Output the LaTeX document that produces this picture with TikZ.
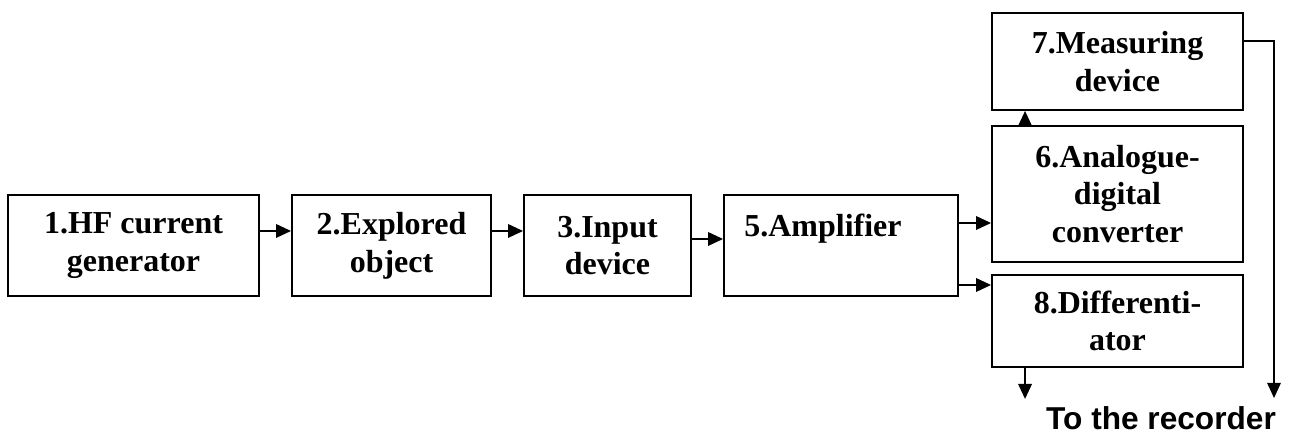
\documentclass[tikz,border=0pt]{standalone}
\usepackage{fontspec}
\setmainfont{Liberation Serif}
\newfontfamily\recfont{Liberation Sans}
\usetikzlibrary{arrows.meta, calc}

\tikzset{
    block/.style={draw, line width=1.1pt, align=center, inner sep=0pt,
        font=\fontsize{18.2}{21.5}\selectfont\bfseries},
    flow/.style={line width=1.1pt, -{Triangle[length=0.3cm, width=0.27cm]}},
}

\begin{document}
\begin{tikzpicture}
\useasboundingbox (0,0) rectangle (25.84,8.7);

%%Paramaters
%% row of the main chain, column of the output blocks
\def\rowPos{ 3.79 }
\def\colPos{ 22.35 }

    %% main chain
    \node[block, minimum width=5.02cm, minimum height=2.02cm] (hfgen) at (2.67, \rowPos) {1.HF current\\generator};
    \node[block, minimum width=3.98cm, minimum height=2.02cm] (object) at (7.83, \rowPos) {2.Explored\\object};
    \node[block, minimum width=3.34cm, minimum height=2.02cm] (input) at (12.15, \rowPos) {3.Input\\device};
    \node[block, minimum width=4.68cm, minimum height=2.02cm] (amp) at (16.82, \rowPos) {};
    \node[anchor=north west, inner sep=0pt, font=\fontsize{18.2}{21.5}\selectfont\bfseries] (amptext) at ($(amp.north west) + (0.42, -0.4)$) {5.Amplifier};

    %% output blocks
    \node[block, minimum width=5.02cm, minimum height=1.94cm] (meas) at (\colPos, 7.47) {7.Measuring\\device};
    \node[block, minimum width=5.02cm, minimum height=2.72cm] (adc) at (\colPos, 4.82) {6.Analogue-\\digital\\converter};
    \node[block, minimum width=5.02cm, minimum height=1.84cm] (diff) at (\colPos, 2.28) {8.Differenti-\\ator};

    %% free ends towards the recorder
    \coordinate (diffEnd) at ($(diff.south west) + (0.68, -0.62)$);
    \coordinate (recEnd) at (25.48, 0.74);
    \node[anchor=base, inner sep=0pt, font=\recfont\fontsize{18}{21}\selectfont\bfseries] (recorder) at (23.22, 0.10) {To the recorder};

    %% connections
    \draw[flow] ([yshift=0.29cm]hfgen.east) -- ([yshift=0.29cm]hfgen.east -| object.west);
    \draw[flow] ([yshift=0.29cm]object.east) -- ([yshift=0.29cm]object.east -| input.west);
    \draw[flow] ([yshift=0.13cm]input.east) -- ([yshift=0.13cm]input.east -| amp.west);

    \draw[flow] ([yshift=0.45cm]amp.east) -- ([yshift=0.45cm]amp.east -| adc.west);
    \draw[flow] ([yshift=-0.79cm]amp.east) -- ([yshift=-0.79cm]amp.east -| diff.west);

    \draw[flow] ([xshift=0.68cm]adc.north west) -- ([xshift=0.68cm]meas.south west);
    \draw[flow] ([xshift=0.68cm]diff.south west) -- (diffEnd);
    \draw[flow, line width=0.8pt] ([yshift=0.41cm]meas.east) -| (recEnd);

\end{tikzpicture}
\end{document}
